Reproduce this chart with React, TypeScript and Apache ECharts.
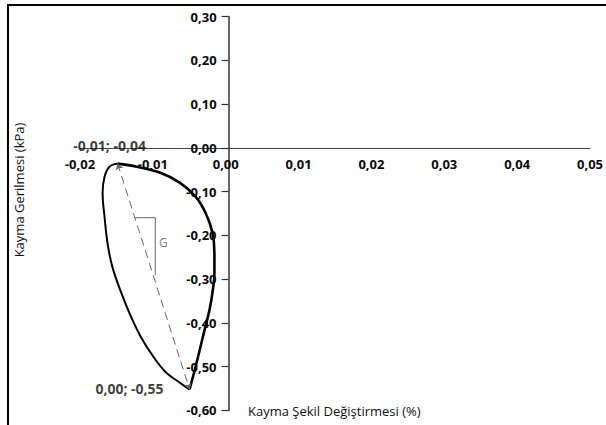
import React, { useEffect, useRef } from "react";
import * as echarts from "echarts";

// Loop branches (shear strain %, shear stress kPa)
const rightBranch: [number, number][] = [
  [-0.01484, -0.036],
  [-0.01219, -0.043],
  [-0.00896, -0.057],
  [-0.00626, -0.08],
  [-0.00411, -0.112],
  [-0.00276, -0.149],
  [-0.00182, -0.194],
  [-0.00155, -0.24],
  [-0.00155, -0.286],
  [-0.00182, -0.331],
  [-0.00222, -0.37],
  [-0.0029, -0.416],
  [-0.00357, -0.462],
  [-0.00424, -0.507],
  [-0.00496, -0.552],
];

const leftBranch: [number, number][] = [
  [-0.00496, -0.552],
  [-0.00626, -0.537],
  [-0.00815, -0.514],
  [-0.0099, -0.478],
  [-0.01165, -0.432],
  [-0.013, -0.386],
  [-0.01434, -0.331],
  [-0.01556, -0.272],
  [-0.01623, -0.217],
  [-0.01663, -0.158],
  [-0.0169, -0.103],
  [-0.01663, -0.066],
  [-0.01596, -0.043],
  [-0.01484, -0.036],
];

const secantEnds: [number, number][] = [
  [-0.01484, -0.036],
  [-0.00496, -0.552],
];

const gTriangle: [number, number][] = [
  [-0.01246, -0.1595],
  [-0.00967, -0.1595],
  [-0.00967, -0.2905],
];

const gLabelPoint: [number, number] = [-0.00855, -0.217];

const xMin = -0.02;
const xMax = 0.05;
const xStep = 0.01;
const yMin = -0.6;
const yMax = 0.3;
const yStep = 0.1;

const xName = "Kayma Şekil Değiştirmesi (%)";
const yName = "Kayma Gerilmesi (kPa)";

const fmt = (v: number) => {
  let s = v.toFixed(2);
  if (s === "-0.00") s = "0.00";
  return s.replace(".", ",");
};

const FONT = "'Open Sans', 'Noto Sans', sans-serif";

// grid geometry (pixels)
const GRID_LEFT = 80;
const GRID_RIGHT = 6;
const GRID_TOP = 16.6;
const GRID_BOTTOM = 14.6;
const W = 606;
const H = 425;

export default function App() {
  const ref = useRef<HTMLDivElement>(null);
  useEffect(() => {
    if (!ref.current) return;
    const chart = echarts.init(ref.current, undefined, { renderer: "svg" });
    const plotW = W - GRID_LEFT - GRID_RIGHT;
    const plotH = H - GRID_TOP - GRID_BOTTOM;
    // pixel distance from grid edges to the zero lines
    const yAxisShift = ((0 - xMin) / (xMax - xMin)) * plotW;
    const xAxisShift = ((0 - yMin) / (yMax - yMin)) * plotH;
    const tickText = {
      fontFamily: FONT,
      fontSize: 13,
      fontWeight: 700,
      color: "#0a0a0a",
    };
    chart.setOption({
      animation: false,
      backgroundColor: "#fff",
      grid: { left: GRID_LEFT, right: GRID_RIGHT, top: GRID_TOP, bottom: GRID_BOTTOM, containLabel: false },
      xAxis: {
        type: "value",
        min: xMin,
        max: xMax,
        interval: xStep,
        position: "bottom",
        offset: -xAxisShift,
        splitLine: { show: false },
        axisLine: { onZero: false, lineStyle: { color: "#444", width: 1.2 } },
        axisTick: { show: false },
        axisLabel: { ...tickText, margin: 10, formatter: (v: number) => fmt(v) },
      },
      yAxis: {
        type: "value",
        min: yMin,
        max: yMax,
        interval: yStep,
        position: "left",
        offset: -yAxisShift,
        splitLine: { show: false },
        axisLine: { onZero: false, lineStyle: { color: "#333", width: 1.5 } },
        axisTick: { show: true, length: 7, lineStyle: { color: "#333", width: 1.2 } },
        axisLabel: { ...tickText, margin: 12, formatter: (v: number) => fmt(v) },
      },
      graphic: [
        {
          type: "rect",
          shape: { x: 8, y: 5, width: 700, height: 500 },
          style: { fill: "none", stroke: "#000", lineWidth: 2 },
          silent: true,
          z: 100,
        },
        {
          type: "text",
          x: 19,
          y: 190,
          rotation: Math.PI / 2,
          style: {
            text: yName,
            font: `13px ${FONT}`,
            fill: "#111",
            textAlign: "center",
            textVerticalAlign: "middle",
          },
        },
        {
          type: "text",
          x: 248,
          y: 411,
          style: {
            text: xName,
            font: `13px ${FONT}`,
            fill: "#111",
            textAlign: "left",
            textVerticalAlign: "middle",
          },
        },
      ],
      series: [
        {
          name: "secant",
          type: "line",
          data: secantEnds,
          symbol: "none",
          lineStyle: { color: "#666", width: 1, type: [8, 5] },
          z: 1,
          silent: true,
          markLine: {
            silent: true,
            symbol: ["arrow", "arrow"],
            symbolSize: 6,
            label: { show: false },
            lineStyle: { color: "#666", width: 0.01, type: "solid", opacity: 1 },
            data: [[{ coord: secantEnds[0] }, { coord: secantEnds[1] }]],
          },
        },
        {
          name: "G",
          type: "line",
          data: gTriangle,
          symbol: "none",
          lineStyle: { color: "#666", width: 1 },
          z: 1,
          silent: true,
        },
        {
          name: "Glabel",
          type: "scatter",
          data: [gLabelPoint],
          symbolSize: 0,
          label: {
            show: true,
            position: "inside",
            formatter: "G",
            fontFamily: FONT,
            fontSize: 12,
            color: "#555",
          },
          silent: true,
        },
        {
          name: "right",
          type: "line",
          data: rightBranch,
          symbol: "none",
          smooth: 0.4,
          lineStyle: { color: "#000", width: 2.6 },
          z: 3,
          silent: true,
        },
        {
          name: "left",
          type: "line",
          data: leftBranch,
          symbol: "none",
          smooth: 0.4,
          lineStyle: { color: "#000", width: 2 },
          z: 3,
          silent: true,
        },
        {
          name: "labels",
          type: "scatter",
          symbolSize: 0,
          silent: true,
          z: 4,
          data: [
            {
              value: secantEnds[0],
              label: { position: "top", distance: 4, offset: [-8, -7] },
            },
            {
              value: secantEnds[1],
              label: { position: "left", distance: 26, offset: [0, -1] },
            },
          ],
          label: {
            show: true,
            formatter: (p: any) => `${fmt(p.value[0])}; ${fmt(p.value[1])}`,
            ...tickText,
            fontSize: 14,
          },
        },
      ],
    });
    return () => chart.dispose();
  }, []);
  return (
    <div
      ref={ref}
      style={{ position: "absolute", left: 0, top: 0, width: W, height: H }}
    />
  );
}
